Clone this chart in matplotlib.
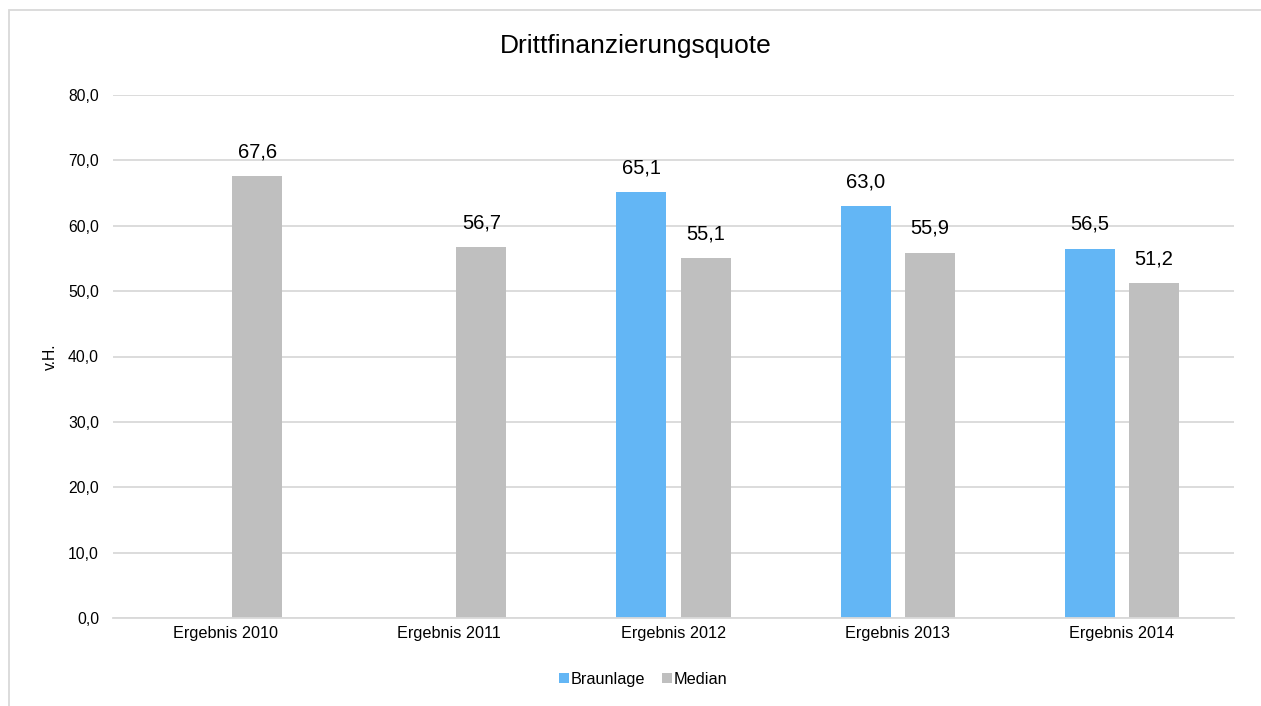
import matplotlib
matplotlib.use("Agg")
import matplotlib.pyplot as plt
import numpy as np
from matplotlib.patches import Rectangle

plt.rcParams['font.family'] = ['Liberation Sans', 'DejaVu Sans']

categories = ["Ergebnis 2010", "Ergebnis 2011", "Ergebnis 2012", "Ergebnis 2013", "Ergebnis 2014"]
braunlage = [np.nan, np.nan, 65.1, 63.0, 56.5]
median = [67.6, 56.7, 55.1, 55.9, 51.2]
series_names = ["Braunlage", "Median"]
yticks = [0, 10, 20, 30, 40, 50, 60, 70, 80]

c_blue = "#63B6F5"
c_gray = "#BFBFBF"
c_grid = "#D9D9D9"

fig = plt.figure(figsize=(12.61, 7.06), dpi=100)
fig.patches.append(Rectangle((8.5/1261, -0.1), 1.2, 1.1 - 10.5/706, transform=fig.transFigure,
                             fill=False, edgecolor=c_grid, linewidth=1.3))
ax = fig.add_axes([113/1261, 1 - 618/706, (1234-113)/1261, (618-95)/706])

x = np.arange(len(categories))
w = 0.223
off = 0.143
ax.bar(x - off, braunlage, w, color=c_blue, label=series_names[0], zorder=3)
ax.bar(x + off, median, w, color=c_gray, label=series_names[1], zorder=3)

def fmt(v):
    return f"{v:.1f}".replace(".", ",")

for xs, vals in ((x - off, braunlage), (x + off, median)):
    for xi, v in zip(xs, vals):
        if np.isnan(v):
            continue
        ax.annotate(fmt(v), (xi, v), xytext=(0, 13.5), textcoords="offset points",
                    ha="center", va="baseline", fontsize=14.5, color="#000000")

ax.set_xlim(-0.5, len(categories) - 0.5)
ax.set_ylim(0, 80)
ax.set_yticks(yticks)
ax.set_yticklabels([fmt(v) for v in yticks], fontsize=11.3, color="#000000")
ax.set_xticks(x)
ax.set_xticklabels(categories, fontsize=11.7, color="#000000")
ax.tick_params(axis="y", length=0, pad=10)
ax.tick_params(axis="x", length=0, pad=6)
ax.grid(axis="y", color=c_grid, linewidth=1.3, zorder=0)
for s in ("left", "right", "top"):
    ax.spines[s].set_visible(False)
ax.spines["bottom"].set_color(c_grid)
ax.spines["bottom"].set_linewidth(1.3)
ax.spines["bottom"].set_zorder(4)

ax.set_ylabel("v.H.", fontsize=11.3)
ax.yaxis.set_label_coords(-0.049, 0.5)

fig.text(0.504, 1 - 46/706, "Drittfinanzierungsquote", ha="center", va="center", fontsize=19)

ax.legend(loc="center", bbox_to_anchor=(0.473, -0.117), ncol=2, frameon=False, fontsize=11.7,
          handlelength=0.6, handleheight=0.6, handletextpad=0.15, columnspacing=1.0)

fig.savefig("out.png", dpi=100)
